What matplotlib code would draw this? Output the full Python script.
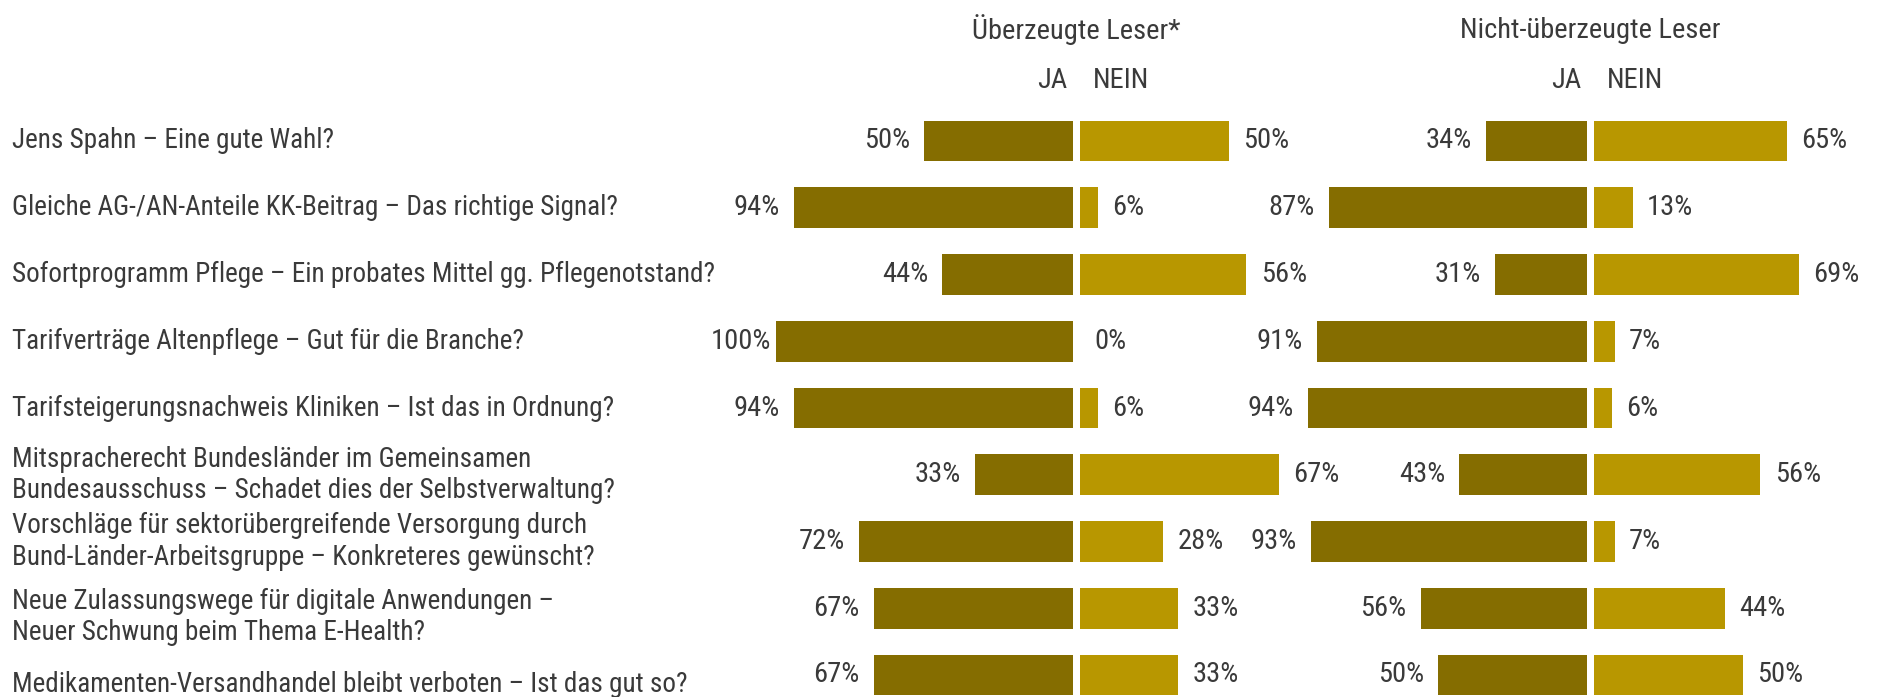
import matplotlib
matplotlib.use("Agg")
import matplotlib.pyplot as plt

plt.rcParams['font.family'] = ['Liberation Sans Narrow', 'Arial Narrow', 'Roboto Condensed',
                               'Archivo Narrow', 'Liberation Sans', 'DejaVu Sans']

questions = [
    "Jens Spahn – Eine gute Wahl?",
    "Gleiche AG-/AN-Anteile KK-Beitrag – Das richtige Signal?",
    "Sofortprogramm Pflege – Ein probates Mittel gg. Pflegenotstand?",
    "Tarifverträge Altenpflege – Gut für die Branche?",
    "Tarifsteigerungsnachweis Kliniken – Ist das in Ordnung?",
    "Mitspracherecht Bundesländer im Gemeinsamen\nBundesausschuss – Schadet dies der Selbstverwaltung?",
    "Vorschläge für sektorübergreifende Versorgung durch\nBund-Länder-Arbeitsgruppe – Konkreteres gewünscht?",
    "Neue Zulassungswege für digitale Anwendungen –\nNeuer Schwung beim Thema E-Health?",
    "Medikamenten-Versandhandel bleibt verboten – Ist das gut so?",
]
ja_ueberzeugt = [50, 94, 44, 100, 94, 33, 72, 67, 67]
nein_ueberzeugt = [50, 6, 56, 0, 6, 67, 28, 33, 33]
ja_nicht = [34, 87, 31, 91, 94, 43, 93, 56, 50]
nein_nicht = [65, 13, 69, 7, 6, 56, 7, 44, 50]
panel_titles = ["Überzeugte Leser*", "Nicht-überzeugte Leser"]
col_labels = ["JA", "NEIN"]

DARK = "#856d00"
LIGHT = "#b89700"
TXT = "#3a3a3a"
FS = 20.5
FS_Q = 19.5

W, H = 1878, 697
fig = plt.figure(figsize=(W / 100, H / 100), dpi=100)

px_per_pct = 2.97
row_pitch = 66.75
row0_y = 141.0
ytop = -row0_y / row_pitch
ybot = (H - row0_y) / row_pitch

def make_axes(center_px, lo, hi):
    left = center_px + lo * px_per_pct
    width = (hi - lo) * px_per_pct
    ax = fig.add_axes([left / W, 0, width / W, 1])
    ax.set_xlim(lo, hi)
    ax.set_ylim(ybot, ytop)
    ax.axis('off')
    ax.patch.set_alpha(0)
    return ax

axL = make_axes(1076.5, -105, 105)
axR = make_axes(1590.5, -105, 97)

hg = 1.2
off = 4.8
bh = 0.61
rows = list(range(len(questions)))

for ax, ja, nein, title in [(axL, ja_ueberzeugt, nein_ueberzeugt, panel_titles[0]),
                            (axR, ja_nicht, nein_nicht, panel_titles[1])]:
    ax.barh(rows, [-v for v in ja], left=-hg, height=bh, color=DARK, linewidth=0)
    ax.barh(rows, nein, left=hg, height=bh, color=LIGHT, linewidth=0)
    for i in rows:
        o = off if ja[i] < 100 else 1.5
        ax.text(-hg - ja[i] - o, i, f"{ja[i]}%", ha='right', va='center',
                fontsize=FS, color=TXT, clip_on=False)
        ax.text(hg + nein[i] + off, i, f"{nein[i]}%", ha='left', va='center',
                fontsize=FS, color=TXT, clip_on=False)
    ax.text(0, (30 - row0_y) / row_pitch, title, ha='center', va='center',
            fontsize=FS, color=TXT)
    ax.text(-8, (81 - row0_y) / row_pitch, col_labels[0], ha='center', va='center',
            fontsize=FS, color=TXT)
    ax.text(15, (81 - row0_y) / row_pitch, col_labels[1], ha='center', va='center',
            fontsize=FS, color=TXT)

for i, q in enumerate(questions):
    ypx = row0_y + i * row_pitch + (9 if i >= 7 else 0)
    fig.text(12 / W, 1 - ypx / H, q, ha='left', va='center', fontsize=FS_Q, color=TXT,
             linespacing=1.2)

fig.savefig("out.png", dpi=100, facecolor="white")
